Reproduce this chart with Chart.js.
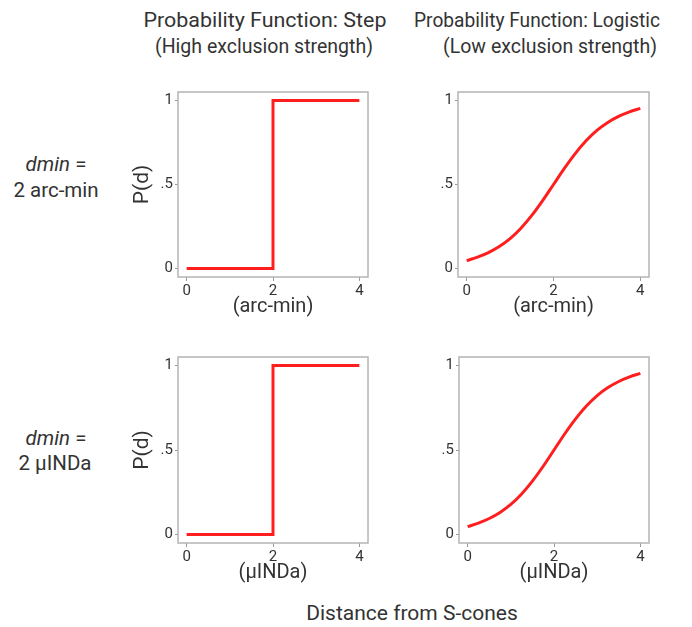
<!DOCTYPE html>
<html>
<head>
<meta charset="utf-8">
<script src="https://cdn.jsdelivr.net/npm/chart.js@4.4.0/dist/chart.umd.min.js"></script>
<style>
	html, body { margin: 0; padding: 0; background: #fff; }
	body { width: 692px; height: 627px; position: relative; overflow: hidden; font-family: Roboto, sans-serif; color: #333; }
	canvas { position: absolute; }
	.lbl { position: absolute; transform: translate(-50%, -50%); white-space: nowrap; line-height: 1; font-size: 20.5px; }
	.head { font-size: 20px; }
</style>
</head>
<body>
<div class="lbl head" data-w="243" style="left:264.5px; top:20px;">Probability Function: Step</div>
<div class="lbl head" data-w="218" style="left:264px; top:46px;">(High exclusion strength)</div>
<div class="lbl head" data-w="246" style="left:537px; top:20px;">Probability Function: Logistic</div>
<div class="lbl head" data-w="214" style="left:550px; top:46px;">(Low exclusion strength)</div>

<div class="lbl" style="left:56px; top:164px;"><i>dmin</i> =</div>
<div class="lbl" style="left:56px; top:190px;">2 arc-min</div>
<div class="lbl" style="left:56px; top:438px;"><i>dmin</i> =</div>
<div class="lbl" style="left:55px; top:463px;">2 µINDa</div>

<div class="lbl" style="left:412px; top:613px; font-size:21px;">Distance from S-cones</div>

<canvas id="stepArc"></canvas>
<canvas id="logisticArc"></canvas>
<canvas id="stepNda"></canvas>
<canvas id="logisticNda"></canvas>

<script>
// step function: zero below dmin, one above
const stepDistance = [0, 2, 2, 4];
const stepP = [0, 0, 1, 1];

// logistic function sampled along the distance axis
const logisticDistance = [0, 0.25, 0.5, 0.75, 1, 1.25, 1.5, 1.75, 2, 2.25, 2.5, 2.75, 3, 3.25, 3.5, 3.75, 4];
const logisticP = [0.047, 0.068, 0.095, 0.131, 0.178, 0.240, 0.316, 0.404, 0.5, 0.596, 0.684, 0.760, 0.822, 0.869, 0.905, 0.932, 0.953];

const xTicks = [0, 2, 4];
const yTicks = [0, 0.5, 1];
const xUnits = ['(arc-min)', '(µINDa)'];

const lineColor = 'rgb(255, 30, 30)';
const textColor = '#333';

// box = plot frame in page pixels
const panels = [
	{ id: 'stepArc', xs: stepDistance, ys: stepP, unit: xUnits[0], yTitle: true, box: { left: 178, top: 92, width: 190, height: 185 } },
	{ id: 'logisticArc', xs: logisticDistance, ys: logisticP, unit: xUnits[0], yTitle: false, box: { left: 458, top: 92, width: 191, height: 185 } },
	{ id: 'stepNda', xs: stepDistance, ys: stepP, unit: xUnits[1], yTitle: true, box: { left: 178, top: 357, width: 190, height: 186 } },
	{ id: 'logisticNda', xs: logisticDistance, ys: logisticP, unit: xUnits[1], yTitle: false, box: { left: 459, top: 357, width: 190, height: 186 } }
];

const axisWidth = 48;
const axisHeight = 42;
const padTop = 12;
const padRight = 12;

const framePlugin = {
	id: 'frame',
	beforeDatasetsDraw(chart) {
		const { ctx, chartArea } = chart;
		ctx.save();
		ctx.strokeStyle = '#b4b4b4';
		ctx.lineWidth = 1.5;
		ctx.strokeRect(chartArea.left, chartArea.top, chartArea.right - chartArea.left, chartArea.bottom - chartArea.top);
		ctx.restore();
	}
};

function createPanel(panel) {
	const canvas = document.getElementById(panel.id);
	const w = panel.box.width + axisWidth + padRight;
	const h = panel.box.height + padTop + axisHeight;
	canvas.width = w;
	canvas.height = h;
	canvas.style.left = (panel.box.left - axisWidth) + 'px';
	canvas.style.top = (panel.box.top - padTop) + 'px';

	new Chart(canvas.getContext('2d'), {
		type: 'scatter',
		data: {
			datasets: [{
				data: panel.xs.map((x, i) => ({ x: x, y: panel.ys[i] })),
				showLine: true,
				borderColor: lineColor,
				borderWidth: 3,
				pointRadius: 0,
				cubicInterpolationMode: 'monotone',
				fill: false
			}]
		},
		options: {
			responsive: false,
			animation: false,
			events: [],
			layout: { padding: { top: padTop, right: padRight, left: 0, bottom: 0 } },
			plugins: { legend: { display: false }, tooltip: { enabled: false } },
			scales: {
				x: {
					type: 'linear',
					min: -0.2,
					max: 4.2,
					afterBuildTicks: scale => { scale.ticks = xTicks.map(v => ({ value: v })); },
					afterFit: scale => { scale.height = axisHeight; },
					grid: { drawOnChartArea: false, drawTicks: true, tickLength: 4, color: '#999' },
					border: { display: false },
					ticks: { color: textColor, font: { family: 'Roboto', size: 15 }, padding: 1, maxRotation: 0 },
					title: { display: true, text: panel.unit, color: textColor, font: { family: 'Roboto', size: 20 }, padding: { top: 0, bottom: 0 } }
				},
				y: {
					type: 'linear',
					min: -0.05,
					max: 1.05,
					afterBuildTicks: scale => { scale.ticks = yTicks.map(v => ({ value: v })); },
					afterFit: scale => { scale.width = axisWidth; },
					grid: { drawOnChartArea: false, drawTicks: true, tickLength: 3, color: '#999' },
					border: { display: false },
					ticks: {
						color: textColor,
						font: { family: 'Roboto', size: 15 },
						padding: 2,
						callback: v => (v === 0.5 ? '.5' : String(v))
					},
					title: { display: panel.yTitle, text: 'P(d)', color: textColor, font: { family: 'Roboto', size: 21 }, padding: 0 }
				}
			}
		},
		plugins: [framePlugin]
	});
}

// squeeze or stretch the column headings to their set widths
function fitHeadings() {
	document.querySelectorAll('.head').forEach(el => {
		const natural = el.getBoundingClientRect().width;
		const k = Number(el.dataset.w) / natural;
		el.style.transform = 'translate(-50%, -50%) scaleX(' + k.toFixed(3) + ')';
	});
}

function init() {
	fitHeadings();
	panels.forEach(createPanel);
}

document.addEventListener('DOMContentLoaded', init);
</script>
</body>
</html>
